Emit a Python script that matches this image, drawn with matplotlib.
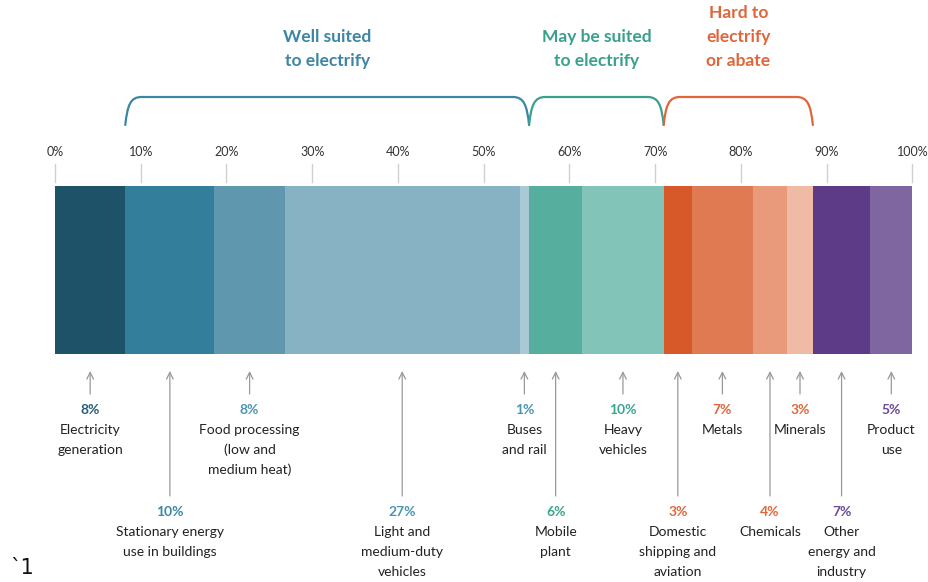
import matplotlib.pyplot as plt
from matplotlib.path import Path
from matplotlib.patches import PathPatch
import numpy as np

plt.rcParams['font.family'] = ['Lato', 'DejaVu Sans']

# data (share of emissions, %)
categories = ["Electricity\ngeneration", "Stationary energy\nuse in buildings",
              "Food processing\n(low and\nmedium heat)", "Light and\nmedium-duty\nvehicles",
              "Buses\nand rail", "Mobile\nplant", "Heavy\nvehicles",
              "Domestic\nshipping and\naviation", "Metals", "Chemicals", "Minerals",
              "Other\nenergy and\nindustry", "Product\nuse"]
shares = [8.2, 10.4, 8.2, 27.4, 1.1, 6.2, 9.5, 3.3, 7.1, 4.0, 3.0, 6.7, 4.9]
share_labels = ["8%", "10%", "8%", "27%", "1%", "6%", "10%", "3%", "7%", "4%", "3%", "7%", "5%"]
bar_colors = ["#1d5269", "#337e9a", "#5e97ae", "#86b2c3", "#a9c9d6", "#56ae9e", "#82c4b8",
              "#d75828", "#e07a52", "#e89a7b", "#efbba5", "#5e3b87", "#7f66a0"]
label_colors = ["#245d75", "#3a88a6", "#4a95b1", "#4a95b1", "#4a95b1", "#3aa58f", "#3aa58f",
                "#e0663a", "#e0663a", "#e0663a", "#e0663a", "#6a4a9a", "#6a4a9a"]
# label row: 0 = near the bar, 1 = lower row
label_row = [0, 1, 0, 1, 0, 1, 0, 1, 0, 1, 0, 1, 0]

group_names = ["Well suited\nto electrify", "May be suited\nto electrify", "Hard to\nelectrify\nor abate"]
group_first = [1, 5, 7]   # index of first category in each group
group_last = [4, 6, 10]   # index of last category
group_colors = ["#3a86a4", "#3aa08d", "#e0663a"]

ticks = np.arange(0, 101, 10)

# figure in pixel-like coordinates: x in %, y in pixel rows
W, H = 929, 582
x0_px, px_per_pct = 55, 8.573
fig = plt.figure(figsize=(W / 100, H / 100), dpi=100)
ax = fig.add_axes([0, 0, 1, 1])
ax.set_xlim(-x0_px / px_per_pct, (W - x0_px) / px_per_pct)
ax.set_ylim(H, 0)
ax.axis('off')

bar_top, bar_bot = 186, 354
lefts = np.concatenate([[0], np.cumsum(shares)[:-1]])
ax.barh((bar_top + bar_bot) / 2, shares, left=lefts, height=bar_bot - bar_top,
        color=bar_colors, edgecolor='none')

# top percentage scale
for t in ticks:
    ax.plot([t, t], [164, 182], color='#d0d0d0', lw=1)
    ax.text(t, 152, f"{t}%", ha='center', va='center', fontsize=9, color='#333333')

# braces
def brace(xa, xb, color):
    yb, yt, r = 125, 97, 1.9
    verts = [(xa, yb), (xa + 0.25, yt + 8), (xa + 0.6, yt), (xa + r, yt),
             (xb - r, yt),
             (xb - 0.6, yt), (xb - 0.25, yt + 8), (xb, yb)]
    codes = [Path.MOVETO, Path.CURVE4, Path.CURVE4, Path.CURVE4,
             Path.LINETO,
             Path.CURVE4, Path.CURVE4, Path.CURVE4]
    ax.add_patch(PathPatch(Path(verts, codes), fill=False, edgecolor=color, lw=1.6,
                           capstyle='round'))

rights = lefts + np.array(shares)
for name, i0, i1, c in zip(group_names, group_first, group_last, group_colors):
    xa, xb = lefts[i0], rights[i1]
    brace(xa, xb, c)
    lines = name.split("\n")
    for k, line in enumerate(lines):
        y = 61 - (len(lines) - 1 - k) * 24
        ax.text((xa + xb) / 2, y, line, ha='center', va='center', fontsize=12.5,
                fontweight='bold', color=c)

# annotations under the bar
for cat, lab, lc, row, l, s in zip(categories, share_labels, label_colors, label_row, lefts, shares):
    xm = l + s / 2
    tail = 394 if row == 0 else 496
    ax.annotate("", xy=(xm, 371), xytext=(xm, tail),
                arrowprops=dict(arrowstyle='->', color='#999999', lw=0.9,
                                mutation_scale=12, shrinkA=0, shrinkB=0))
    y_pct = 410 if row == 0 else 512
    ax.text(xm, y_pct, lab, ha='center', va='center', fontsize=10, fontweight='bold', color=lc)
    for k, line in enumerate(cat.split("\n")):
        ax.text(xm, y_pct + 20 * (k + 1), line, ha='center', va='center', fontsize=10,
                color='#222222')

fig.text(10 / W, 1 - 568 / H, "`1", ha='left', va='center', fontsize=15, color='#111111',
         family='DejaVu Sans')

fig.savefig("out.png", dpi=100)
